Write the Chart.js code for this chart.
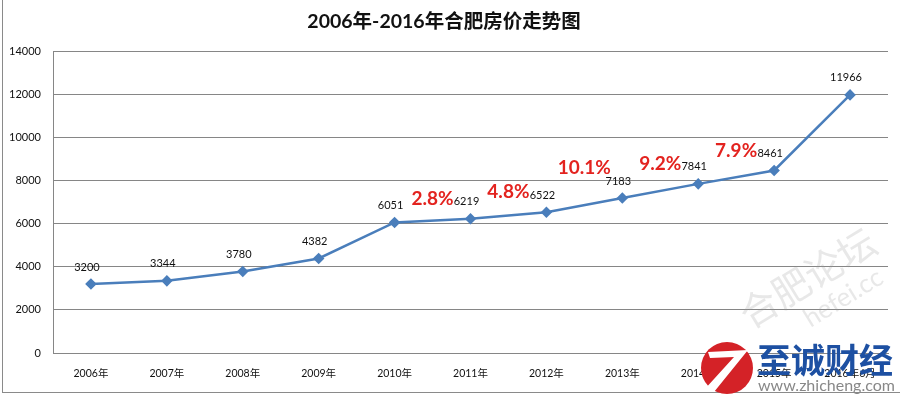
<!DOCTYPE html>
<html>
<head>
<meta charset="utf-8">
<script src="https://cdn.jsdelivr.net/npm/chart.js@4/dist/chart.umd.min.js"></script>
<style>
  html, body { margin: 0; padding: 0; background: #fff; }
  #wrap { width: 900px; height: 394px; }
</style>
</head>
<body>
<div id="wrap"><canvas id="housePrice"></canvas></div>
<script>
// 数据
const years = ['2006年', '2007年', '2008年', '2009年', '2010年', '2011年', '2012年', '2013年', '2014年', '2015年', '2016年6月'];
const prices = [3200, 3344, 3780, 4382, 6051, 6219, 6522, 7183, 7841, 8461, 11966];
const yTicks = [0, 2000, 4000, 6000, 8000, 10000, 12000, 14000];
// 涨幅, 写在对应年份的点左上方
const growth = [null, null, null, null, null, '2.8%', '4.8%', '10.1%', '9.2%', '7.9%', null];

const FONT = "Lato, 'Noto Sans CJK SC', sans-serif";

// 数值标签 + 涨幅
const labelPlugin = {
    id: 'labels',
    afterDatasetsDraw(chart) {
        const ctx = chart.ctx;
        const pts = chart.getDatasetMeta(0).data;
        ctx.save();
        ctx.textAlign = 'center';
        ctx.textBaseline = 'middle';
        pts.forEach((p, i) => {
            ctx.font = '11px ' + FONT;
            ctx.fillStyle = '#111';
            ctx.fillText(prices[i], p.x - 4, p.y - 17);
            if (growth[i]) {
                ctx.font = 'bold 19px ' + FONT;
                ctx.fillStyle = '#e3231f';
                const lift = growth[i] === '10.1%' ? 30 : 20;
                ctx.fillText(growth[i], p.x - 38, p.y - lift);
            }
        });
        ctx.restore();
    }
};

// 边框和水印
const decoPlugin = {
    id: 'deco',
    beforeDraw(chart) {
        const ctx = chart.ctx;
        ctx.save();
        ctx.strokeStyle = '#8a8a8a';
        ctx.lineWidth = 1;
        ctx.strokeRect(2.5, -2, 900, 394.5);
        ctx.restore();
    },
    afterDraw(chart) {
        const ctx = chart.ctx;
        ctx.save();
        // 合肥论坛 水印
        ctx.translate(815, 290);
        ctx.rotate(-0.55);
        ctx.fillStyle = 'rgba(150,150,150,0.22)';
        ctx.font = '38px ' + FONT;
        ctx.textAlign = 'center';
        ctx.fillText('合肥论坛', 0, 0);
        ctx.font = '26px ' + FONT;
        ctx.fillText('hefei.cc', 20, 30);
        ctx.restore();

        ctx.save();
        // 红色圆标
        ctx.beginPath();
        ctx.arc(727, 368, 26, 0, Math.PI * 2);
        ctx.fillStyle = '#d42227';
        ctx.fill();
        ctx.beginPath();
        ctx.moveTo(708, 352);
        ctx.lineTo(748, 350);
        ctx.lineTo(714, 392);
        ctx.lineTo(704, 390);
        ctx.lineTo(734, 357);
        ctx.lineTo(710, 358);
        ctx.closePath();
        ctx.fillStyle = '#fff';
        ctx.fill();
        ctx.fillStyle = '#1d50a2';
        ctx.font = 'bold 34px ' + FONT;
        ctx.textAlign = 'left';
        ctx.textBaseline = 'middle';
        ctx.fillText('至诚财经', 757, 362);
        ctx.fillStyle = '#888';
        ctx.font = '16px ' + FONT;
        ctx.fillText('www.zhicheng.com', 758, 386);
        ctx.restore();
    }
};

new Chart(document.getElementById('housePrice'), {
    type: 'line',
    data: {
        labels: years,
        datasets: [{
            data: prices,
            borderColor: '#4a7ebb',
            backgroundColor: '#4a7ebb',
            borderWidth: 2.5,
            pointStyle: 'rectRot',
            pointRadius: 4,
            pointHoverRadius: 4,
            tension: 0
        }]
    },
    options: {
        responsive: true,
        maintainAspectRatio: false,
        animation: false,
        layout: { padding: { left: 0, right: 12, top: 0, bottom: 0 } },
        plugins: {
            legend: { display: false },
            tooltip: { enabled: false },
            title: {
                display: true,
                text: '2006年-2016年合肥房价走势图',
                color: '#111',
                font: { family: FONT, size: 19.5, weight: 'bold' },
                padding: { top: 10, bottom: 17.6 }
            }
        },
        scales: {
            x: {
                offset: true,
                grid: { display: false, drawTicks: false },
                border: { color: '#868686' },
                ticks: {
                    color: '#111',
                    font: { family: FONT, size: 10.5 },
                    padding: 14,
                    maxRotation: 0,
                    autoSkip: false
                },
                afterFit(scale) { scale.height = 41; }
            },
            y: {
                min: 0,
                max: 14000,
                afterBuildTicks(scale) {
                    scale.ticks = yTicks.map(v => ({ value: v }));
                },
                grid: { color: '#868686', drawTicks: false },
                border: { color: '#868686' },
                ticks: {
                    color: '#111',
                    font: { family: FONT, size: 11 },
                    padding: 12,
                    callback: v => String(v)
                },
                afterFit(scale) { scale.width = 53; }
            }
        }
    },
    plugins: [labelPlugin, decoPlugin]
});
</script>
</body>
</html>
